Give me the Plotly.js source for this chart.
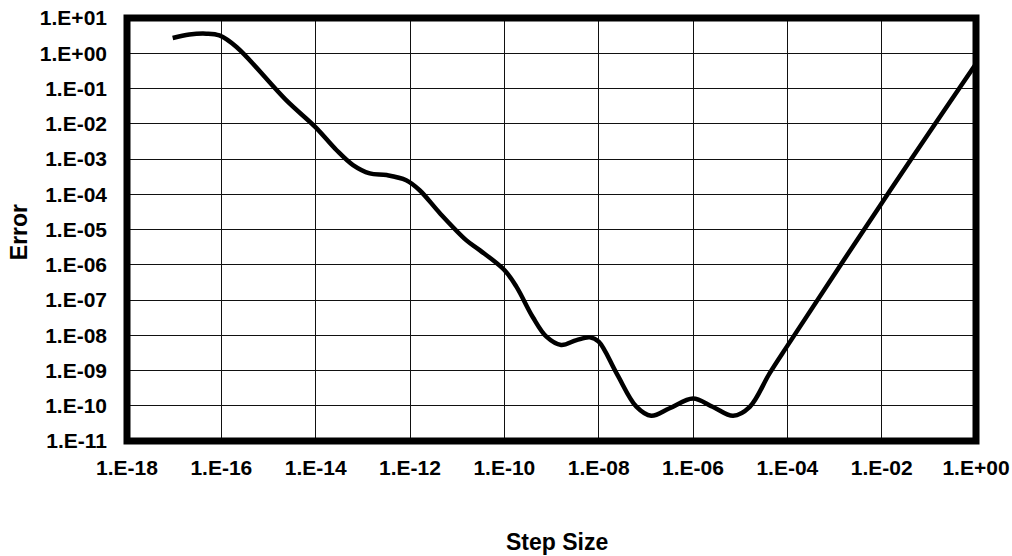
<!DOCTYPE html>
<html>
<head>
<meta charset="utf-8">
<script src="https://cdn.plot.ly/plotly-3.0.1.min.js"></script>
<style>html,body{margin:0;padding:0;background:#fff;}#chart{width:1012px;height:556px;}</style>
</head>
<body>
<div id="chart"></div>
<script>
// Step size (x) and error (y)
var stepSize = [9.3e-18, 2.1e-17, 4.8e-17, 9.1e-17, 2.1e-16, 2.4e-15, 1.0e-14, 2.75e-14, 6.2e-14,
  1.4e-13, 3.2e-13, 8.3e-13, 1.6e-12, 4.3e-12, 1.55e-11, 3.0e-11, 1.0e-10, 1.8e-10, 4.0e-10,
  7.8e-10, 1.6e-9, 3.4e-9, 6.5e-9, 1.0e-8, 2.4e-8, 6.3e-8, 1.3e-7, 3.2e-7, 1.0e-6,
  2.6e-6, 7.1e-6, 1.6e-5, 4.2e-5, 1.0e-4, 1.0e-2, 1.0];
var errorVals = [2.7, 3.4, 3.6, 3.2, 1.5, 0.046, 7.9e-3, 1.8e-3, 6.7e-4,
  3.9e-4, 3.5e-4, 2.5e-4, 1.3e-4, 2.9e-5, 5.0e-6, 2.6e-6, 7.1e-7, 2.4e-7, 3.3e-8,
  9.1e-9, 5.3e-9, 7.3e-9, 8.7e-9, 6.6e-9, 8.3e-10, 9.4e-11, 5.2e-11, 8.5e-11, 1.6e-10,
  9.4e-11, 5.2e-11, 9.3e-11, 8.3e-10, 5.0e-9, 5.6e-5, 0.5];

var xTickVals = [1e-18, 1e-16, 1e-14, 1e-12, 1e-10, 1e-8, 1e-6, 1e-4, 1e-2, 1];
var xTickText = ["1.E-18", "1.E-16", "1.E-14", "1.E-12", "1.E-10", "1.E-08", "1.E-06", "1.E-04", "1.E-02", "1.E+00"];
var yTickVals = [1e-11, 1e-10, 1e-9, 1e-8, 1e-7, 1e-6, 1e-5, 1e-4, 1e-3, 1e-2, 1e-1, 1, 10];
var yTickText = ["1.E-11", "1.E-10", "1.E-09", "1.E-08", "1.E-07", "1.E-06", "1.E-05", "1.E-04", "1.E-03", "1.E-02", "1.E-01", "1.E+00", "1.E+01"];
var xTitle = "Step Size";
var yTitle = "Error";

var fontFam = "Liberation Sans, Arial, Helvetica, sans-serif";

var trace = {
  x: stepSize, y: errorVals, type: "scatter", mode: "lines",
  line: {color: "#000", width: 4.5, shape: "spline", smoothing: 1},
  hoverinfo: "x+y", showlegend: false
};

var layout = {
  width: 1012, height: 556,
  margin: {l: 127, r: 36, t: 18, b: 115},
  paper_bgcolor: "#fff", plot_bgcolor: "#fff",
  font: {family: fontFam, color: "#000"},
  xaxis: {
    type: "log", range: [-18, 0],
    tickvals: xTickVals, ticktext: xTickText,
    showgrid: true, gridcolor: "#111", gridwidth: 1,
    zeroline: false, showline: false, ticks: "",
    ticklabelstandoff: 12,
    tickfont: {family: fontFam, size: 21, weight: "bold", color: "#000"}
  },
  yaxis: {
    type: "log", range: [-11, 1],
    tickvals: yTickVals, ticktext: yTickText,
    showgrid: true, gridcolor: "#111", gridwidth: 1,
    zeroline: false, showline: false, ticks: "",
    ticklabelstandoff: 19,
    tickfont: {family: fontFam, size: 21, weight: "bold", color: "#000"}
  },
  annotations: [
    {text: xTitle, xref: "paper", yref: "paper", x: 0.5065, y: -0.2386,
     xanchor: "center", yanchor: "middle", showarrow: false,
     font: {family: fontFam, size: 23, weight: "bold", color: "#000"}},
    {text: yTitle, xref: "paper", yref: "paper", x: -0.1272, y: 0.4937, textangle: -90,
     xanchor: "center", yanchor: "middle", showarrow: false,
     font: {family: fontFam, size: 23, weight: "bold", color: "#000"}}
  ],
  shapes: [{
    type: "rect", xref: "paper", yref: "paper", x0: 0, x1: 1, y0: 0, y1: 1,
    line: {color: "#000", width: 7}, layer: "above"
  }]
};

Plotly.newPlot("chart", [trace], layout, {displayModeBar: false});
</script>
</body>
</html>
